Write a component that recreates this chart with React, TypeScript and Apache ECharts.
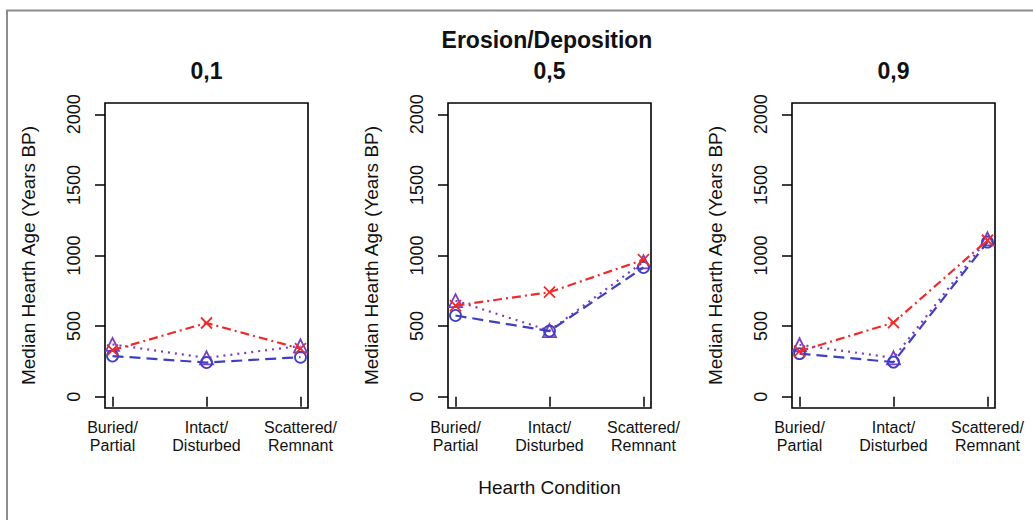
import React, { useEffect, useRef } from "react";
import * as echarts from "echarts";

const categories = ["Buried/\nPartial", "Intact/\nDisturbed", "Scattered/\nRemnant"];
const panelTitles = ["0,1", "0,5", "0,9"];
const yTicks = [0, 500, 1000, 1500, 2000];

// Triangle (purple, dotted), circle (blue, dashed), cross (red, dash-dot)
const triangle01 = [370, 275, 360];
const circle01 = [288, 242, 280];
const cross01 = [330, 522, 340];

const triangle05 = [680, 468, 955];
const circle05 = [575, 465, 915];
const cross05 = [645, 740, 970];

const triangle09 = [368, 275, 1118];
const circle09 = [305, 245, 1095];
const cross09 = [322, 525, 1108];

const panelData = [
  { triangle: triangle01, circle: circle01, cross: cross01 },
  { triangle: triangle05, circle: circle05, cross: cross05 },
  { triangle: triangle09, circle: circle09, cross: cross09 },
];

const gridLefts = [105, 448, 792];
const FONT = "Liberation Sans, Arial, Helvetica, sans-serif";

export default function App() {
  const ref = useRef<HTMLDivElement>(null);
  useEffect(() => {
    if (!ref.current) return;
    const chart = echarts.init(ref.current, undefined, { renderer: "svg" });

    const grids = gridLefts.map((left) => ({
      left,
      top: 103,
      width: 203,
      height: 305,
      show: true,
      backgroundColor: "transparent",
      borderColor: "#000",
      borderWidth: 1.6,
      containLabel: false,
      outerBoundsMode: "none",
    }));

    const xAxes = gridLefts.map((_, i) => ({
      type: "value",
      gridIndex: i,
      min: 0.92,
      max: 3.08,
      axisLine: { show: false },
      splitLine: { show: false },
      axisTick: {
        show: true,
        inside: false,
        length: 10,
        customValues: [1, 2, 3],
        lineStyle: { color: "#000", width: 1.5 },
      },
      axisLabel: {
        show: true,
        customValues: [1, 2, 3],
        formatter: (v: number) => categories[Math.round(v) - 1] ?? "",
        fontFamily: FONT,
        fontSize: 16,
        lineHeight: 18,
        color: "#111",
        margin: 10,
      },
      name: i === 1 ? "Hearth Condition" : "",
      nameLocation: "middle",
      nameGap: 70,
      nameTextStyle: { fontFamily: FONT, fontSize: 19, color: "#111" },
    }));

    const yAxes = gridLefts.map((_, i) => ({
      type: "value",
      gridIndex: i,
      min: -80,
      max: 2080,
      axisLine: { show: false },
      splitLine: { show: false },
      axisTick: {
        show: true,
        inside: false,
        length: 10,
        customValues: yTicks,
        lineStyle: { color: "#000", width: 1.5 },
      },
      axisLabel: {
        show: true,
        customValues: yTicks,
        formatter: (v: number) => String(Math.round(v)),
        rotate: 90,
        fontFamily: FONT,
        fontSize: 18,
        color: "#111",
        margin: 22,
      },
      name: "Median Hearth Age (Years BP)",
      nameLocation: "middle",
      nameGap: 67,
      nameTextStyle: { fontFamily: FONT, fontSize: 19, color: "#111" },
    }));

    const mk = (vals: number[]) => vals.map((v, k) => [k + 1, v]);
    const series: any[] = [];
    panelData.forEach((p, i) => {
      series.push({
        type: "line",
        name: "Triangle",
        xAxisIndex: i,
        yAxisIndex: i,
        data: mk(p.triangle),
        symbol: "triangle",
        symbolSize: 13,
        itemStyle: { color: "transparent", borderColor: "#7b3fbf", borderWidth: 1.8 },
        lineStyle: { color: "#7b3fbf", width: 2.2, type: [2, 5] },
        z: 2,
      });
      series.push({
        type: "line",
        name: "Circle",
        xAxisIndex: i,
        yAxisIndex: i,
        data: mk(p.circle),
        symbol: "circle",
        symbolSize: 11,
        itemStyle: { color: "transparent", borderColor: "#3f3fbf", borderWidth: 1.8 },
        lineStyle: { color: "#3f3fbf", width: 2.2, type: [11, 6] },
        z: 3,
      });
      series.push({
        type: "line",
        name: "Cross",
        xAxisIndex: i,
        yAxisIndex: i,
        data: mk(p.cross),
        symbol: "path://M0,0L10,10M10,0L0,10",
        symbolSize: 11,
        itemStyle: { color: "#ee2b2b", borderColor: "#ee2b2b", borderWidth: 1.8 },
        lineStyle: { color: "#ee2b2b", width: 2.2, type: [9, 4, 2, 4] },
        z: 4,
      });
    });

    const graphic: any[] = [
      {
        type: "line",
        shape: { x1: 6, y1: 10.5, x2: 1033, y2: 10.5 },
        style: { stroke: "#8c8c8c", lineWidth: 2 },
      },
      {
        type: "line",
        shape: { x1: 7, y1: 10, x2: 7, y2: 520 },
        style: { stroke: "#8c8c8c", lineWidth: 2 },
      },
      {
        type: "text",
        x: 547,
        y: 40,
        style: {
          text: "Erosion/Deposition",
          font: `bold 23px ${FONT}`,
          fill: "#111",
          align: "center",
          verticalAlign: "middle",
        },
      },
    ];
    panelTitles.forEach((t, i) => {
      graphic.push({
        type: "text",
        x: gridLefts[i] + 101.5,
        y: 71,
        style: {
          text: t,
          font: `bold 23px ${FONT}`,
          fill: "#111",
          align: "center",
          verticalAlign: "middle",
        },
      });
    });

    chart.setOption({
      animation: false,
      backgroundColor: "#fff",
      grid: grids,
      xAxis: xAxes,
      yAxis: yAxes,
      series,
      graphic,
    });
    return () => chart.dispose();
  }, []);

  return (
    <div
      ref={ref}
      style={{ position: "fixed", left: 0, top: 0, width: 1033, height: 520 }}
    />
  );
}
